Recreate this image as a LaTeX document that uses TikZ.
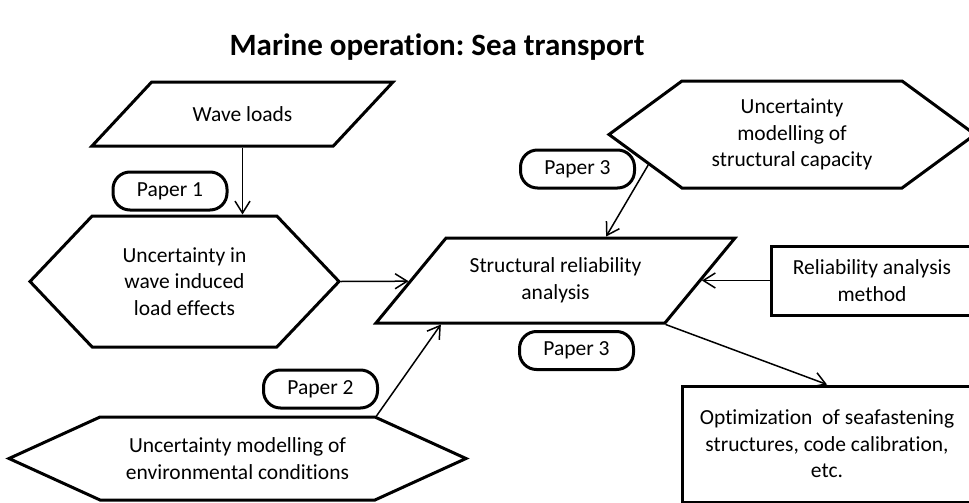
\documentclass[tikz,border=0pt]{standalone}
\usepackage{fontspec}
\setmainfont{Carlito}[Ligatures={NoCommon,NoContextual}]
\frenchspacing
\usetikzlibrary{arrows.meta,shapes.geometric,shapes.symbols}

\tikzset{
  words/.style={align=center,font=\fontsize{21.5}{26.5}\selectfont},
  flow/.style={draw,line width=3pt,inner sep=0pt,words},
  io/.style={flow,trapezium,trapezium stretches body,inner xsep=0pt},
  prep/.style={flow,signal,signal to=west and east},
  process/.style={flow,rectangle},
  tag/.style={flow,rectangle,rounded corners=17pt,minimum width=114pt,minimum height=38pt},
}

\begin{document}
\begin{tikzpicture}[x=1pt,y=-1pt,->,>={Straight Barb[length=12pt,width=15pt]},line width=1.5pt]
  \useasboundingbox (0,0) rectangle (969,503);
  \clip (0,0) rectangle (969,503);

  \node[font=\bfseries\fontsize{31}{37}\selectfont,anchor=base] (title) at (437,56) {Marine operation: Sea transport};

  \node[io,trapezium left angle=47,trapezium right angle=133,inner ysep=32pt,minimum width=301pt,
        label={[words]center:Wave loads}] (wave) at (242.5,114) {};
  \node[prep,signal pointer angle=93,minimum width=309pt,minimum height=131pt] (loadeff) at (184.5,281.5) {Uncertainty in\\wave induced\\load effects};
  \node[io,trapezium left angle=50.5,trapezium right angle=129.5,inner ysep=42.5pt,minimum width=359pt,
        label={[words]center:Structural reliability\\analysis}] (sra) at (555.5,280.5) {};
  \node[prep,signal pointer angle=72.5,minimum width=366pt,minimum height=107pt] (capacity) at (792,134.5) {Uncertainty\\modelling of\\structural capacity};
  \node[process,minimum width=202pt,minimum height=69pt] (method) at (872,280.5) {Reliability analysis\\method};
  \node[prep,signal pointer angle=49,minimum width=457pt,minimum height=83pt] (envcond) at (237.5,458.5) {Uncertainty modelling of\\environmental conditions};
  \node[process,minimum width=290pt,minimum height=116pt] (opt) at (827,444) {Optimization~ of seafastening\\structures, code calibration,\\etc.};

  \node[tag] (paper1) at (170,191) {Paper 1};
  \node[tag] (paper3a) at (577.5,169) {Paper 3};
  \node[tag] (paper3b) at (576.5,350.5) {Paper 3};
  \node[tag] (paper2) at (320.5,389) {Paper 2};

  \path (wave.south) edge (wave.south |- loadeff.north)
        (loadeff.east) edge (sra)
        (capacity.192) edge (sra.41)
        (method) edge (sra)
        (envcond.17) edge (sra.201)
        (sra.bottom right corner) edge (opt.north);
\end{tikzpicture}
\end{document}
